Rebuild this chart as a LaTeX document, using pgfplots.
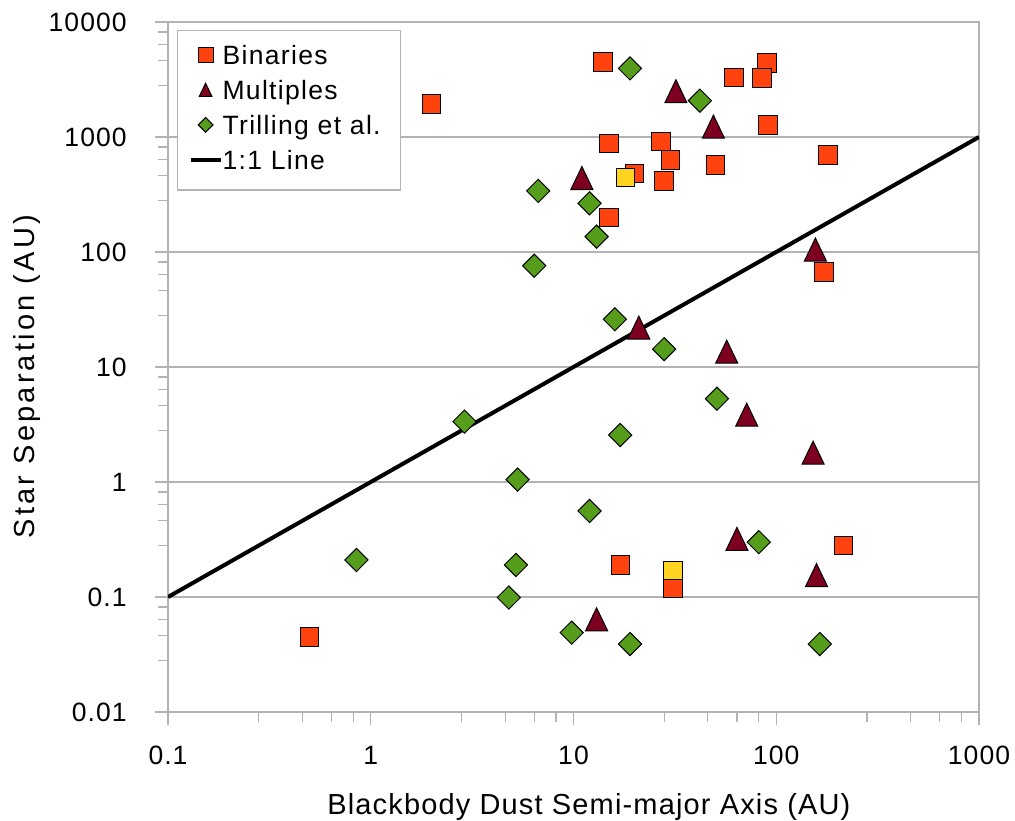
\documentclass[border=0pt]{standalone}
\usepackage{fontspec}
\setmainfont{Liberation Sans}
\newfontfamily\fTick[LetterSpace=4]{Liberation Sans}
\newfontfamily\fXlab[LetterSpace=4]{Liberation Sans}
\newfontfamily\fYlab[LetterSpace=11]{Liberation Sans}
\newfontfamily\fLeg[LetterSpace=5]{Liberation Sans}
\usepackage{pgfplots}
\pgfplotsset{compat=1.18}

\definecolor{cBin}{HTML}{FF420E}
\definecolor{cMul}{HTML}{7E0021}
\definecolor{cTri}{HTML}{579D1C}
\definecolor{cYel}{HTML}{FFD320}
\definecolor{gridgray}{HTML}{B3B3B3}

% taller-than-wide triangle, centred on its bounding box
\pgfdeclareplotmark{tri}{%
  \pgfpathmoveto{\pgfqpoint{0pt}{\pgfplotmarksize}}%
  \pgfpathlineto{\pgfqpoint{-0.958\pgfplotmarksize}{-\pgfplotmarksize}}%
  \pgfpathlineto{\pgfqpoint{0.958\pgfplotmarksize}{-\pgfplotmarksize}}%
  \pgfpathclose\pgfusepathqfillstroke}

\pgfplotsset{
  legmark/.style={legend image code/.code={\draw[##1] plot coordinates {(7.5pt,1.45pt)};}},
  legline/.style={legend image code/.code={\draw[##1] (0pt,1.45pt) -- (15pt,1.45pt);}},
}

\begin{document}
\begin{tikzpicture}
\begin{axis}[
    scale only axis,
    width=405.5pt, height=345pt,
    xmode=log, ymode=log,
    xmin=0.1, xmax=1000, ymin=0.01, ymax=10000,
    xtick={0.1,1,10,100,1000},
    xticklabels={0.1,1,10,100,1000},
    ytick={0.01,0.1,1,10,100,1000,10000},
    yticklabels={0.01,0.1,1,10,100,1000,10000},
    minor xtick={0.28,0.46,0.64,0.82,2.8,4.6,6.4,8.2,28,46,64,82,280,460,640,820},
    minor ytick={0.028,0.046,0.064,0.082,0.28,0.46,0.64,0.82,2.8,4.6,6.4,8.2,28,46,64,82,280,460,640,820,2800,4600,6400,8200},
    tick align=outside,
    xtick pos=left, ytick pos=left,
    major tick length=6.5pt, minor tick length=5pt,
    every tick/.append style={gridgray, line width=0.6pt},
    axis line style={gridgray, line width=0.7pt},
    ymajorgrids,
    major grid style={gridgray, line width=0.6pt},
    xticklabel style={font=\fTick\fontsize{13.25}{15}\selectfont, anchor=north, inner sep=0pt, yshift=-10.5pt},
    yticklabel style={font=\fTick\fontsize{13.25}{15}\selectfont, anchor=east, inner sep=0pt, xshift=-14pt},
    xlabel={Blackbody Dust Semi-major Axis (AU)},
    ylabel={Star Separation (AU)},
    xlabel style={font=\fXlab\fontsize{14.5}{16}\selectfont, anchor=base, inner sep=0pt,
        at={([yshift=-51.2pt]axis description cs:0.519,0)}},
    ylabel style={font=\fYlab\fontsize{14.5}{16}\selectfont, anchor=base, inner sep=0pt,
        at={([xshift=-66.5pt]axis description cs:0,0.486)}},
    legend cell align=left,
    legend style={at={(axis description cs:0.0111,0.9884)}, anchor=north west,
        draw=gridgray, line width=0.6pt, fill=white,
        font=\fLeg\fontsize{13.25}{15}\selectfont,
        inner xsep=5.5pt, inner ysep=7.4pt, row sep=5.15pt,
        nodes={inner sep=0pt, text height=9.5pt, text depth=2.85pt, text width=83.5pt, align=left},
        /tikz/every even column/.append style={column sep=3.5pt}},
]
% 1:1 line
\addplot[forget plot, black, line width=2pt] coordinates {(0.1,0.1) (1000,1000)};
% Binaries
\addplot[forget plot, only marks, mark=square*, mark size=4.6pt,
    mark options={fill=cBin, draw=black, line width=0.5pt}] coordinates {
    (2.0,1940) (14,4500) (90,4400) (62,3300) (85,3250) (91,1270) (15,880)
    (27,910) (30,630) (20,480) (28,414) (50,570) (180,700) (15,200) (172,67)
    (0.5,0.045) (17,0.19) (31,0.12) (214,0.28)};
% second binary set (not in legend)
\addplot[forget plot, only marks, mark=square*, mark size=4.6pt,
    mark options={fill=cYel, draw=black, line width=0.5pt}] coordinates {
    (18,443) (31,0.17)};
% Trilling et al.
\addplot[forget plot, only marks, mark=square*, mark size=4.1pt,
    mark options={fill=cTri, draw=black, line width=0.5pt, rotate=45}] coordinates {
    (19,3950) (42,2070) (6.7,340) (12,265) (13,136) (6.4,76) (16,26) (28,14.3)
    (51,5.3) (2.9,3.35) (17,2.56) (5.3,1.05) (12,0.56) (82,0.3) (5.2,0.19)
    (4.8,0.099) (9.8,0.049) (19,0.039) (164,0.039) (0.85,0.21)};
% Multiples
\addplot[forget plot, only marks, mark=tri, mark size=5.75pt,
    mark options={fill=cMul, draw=black, line width=0.5pt}] coordinates {
    (32,2500) (49,1230) (11,440) (156,105) (21,22) (57,13.6) (71.5,3.85)
    (152,1.8) (64,0.32) (158,0.155) (13,0.064)};

\addlegendimage{only marks, mark=square*, mark size=3.75pt,
    mark options={fill=cBin, draw=black, line width=0.5pt}, legmark}
\addlegendentry{Binaries}
\addlegendimage{only marks, mark=tri, mark size=3.3pt,
    mark options={fill=cMul, draw=black, line width=0.5pt}, legmark}
\addlegendentry{Multiples}
\addlegendimage{only marks, mark=square*, mark size=2.6pt,
    mark options={fill=cTri, draw=black, line width=0.5pt, rotate=45}, legmark}
\addlegendentry{Trilling et al.}
\addlegendimage{black, line width=2pt, legline}
\addlegendentry{1:1 Line}
\end{axis}
\path ([shift={(-84pt,-54pt)}]current axis.south west) rectangle ([shift={(18pt,11pt)}]current axis.north east);
\end{tikzpicture}
\end{document}
